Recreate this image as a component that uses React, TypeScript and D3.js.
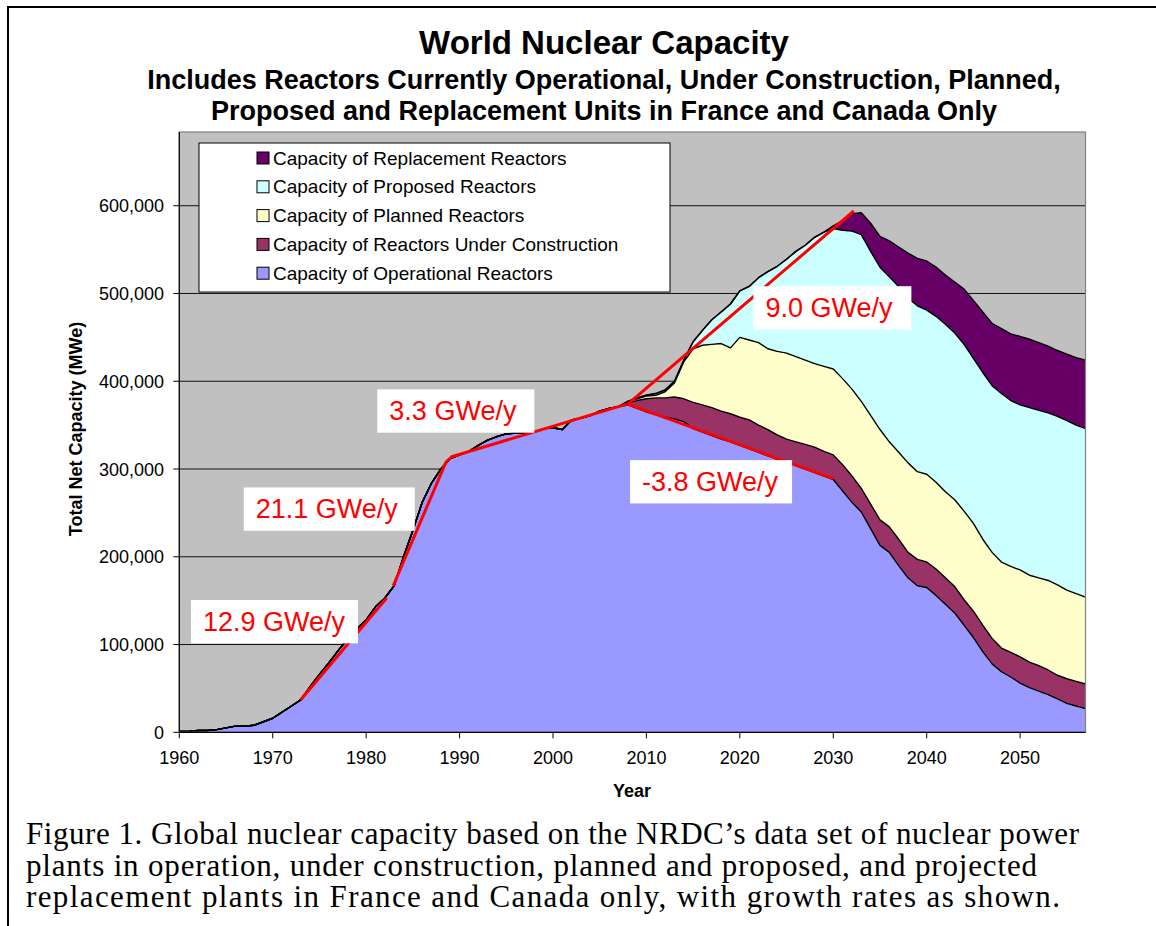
import React from 'react';
import * as d3 from 'd3';

// categories
const years = d3.range(1960, 2058);
const projectionStart = 2008;

// values in thousand MWe
const operational = [
  1, 1, 2, 2, 3, 5, 7, 7, 8, 12,
  16, 23, 30, 37, 52, 66, 79, 93, 106, 118,
  128, 143, 153, 167, 200, 230, 262, 284, 300, 312,
  316, 320, 327, 333, 337, 340, 341, 341, 342, 346,
  347, 345, 356, 358, 361, 366, 369, 371, 373, 369,
  365, 362, 359, 357, 354, 346, 342, 338, 334, 331,
  327, 323, 319, 315, 311, 308, 304, 300, 296, 292,
  288, 275, 262, 251, 232, 213, 205, 190, 176, 167,
  165, 156, 146, 136, 122, 108, 92, 78, 69, 63,
  56, 51, 47, 43, 38, 33, 30, 27,
];

// 2008 .. 2057
const underConstruction = [
  2, 9, 15, 19, 22, 25, 26, 30, 31, 32,
  32, 32, 32, 33, 31, 30, 28, 26, 27, 28,
  29, 28, 28, 30, 30, 27, 28, 29, 29, 30,
  29, 30, 29, 30, 30, 30, 29, 30, 30, 29,
  27, 28, 30, 29, 29, 28, 27, 28, 28, 28,
];
const planned = [
  1, 2, 3, 3, 7, 16, 42, 61, 68, 72,
  77, 75, 91, 91, 94, 92, 95, 98, 97, 96,
  95, 97, 98, 98, 99, 99, 101, 103, 97, 99,
  102, 100, 100, 99, 98, 99, 101, 100, 98, 98,
  98, 98, 99, 99, 100, 102, 103, 101, 100, 99,
];
const proposed = [
  1, 1, 1, 2, 2, 2, 2, 8, 17, 28,
  36, 50, 53, 61, 74, 88, 97, 107, 120, 131,
  144, 153, 160, 169, 180, 190, 187, 185, 188, 189,
  188, 189, 187, 189, 191, 190, 190, 188, 190, 190,
  192, 189, 188, 191, 191, 191, 192, 193, 192, 192,
];
const replacement = [
  0, 0, 0, 0, 0, 0, 0, 0, 0, 0,
  0, 0, 0, 0, 0, 0, 0, 0, 0, 0,
  0, 0, 3, 11, 20, 25, 32, 35, 41, 45,
  51, 54, 56, 56, 56, 58, 63, 66, 69, 71,
  74, 76, 78, 78, 77, 76, 75, 76, 77, 78,
];

const seriesKeys = ['operational', 'underConstruction', 'planned', 'proposed', 'replacement'];
const seriesLabels = [
  'Capacity of Operational Reactors',
  'Capacity of Reactors Under Construction',
  'Capacity of Planned Reactors',
  'Capacity of Proposed Reactors',
  'Capacity of Replacement Reactors',
];
const seriesColors = ['#9999FF', '#993366', '#FFFFCC', '#CCFFFF', '#660066'];

const yTicks = [0, 100000, 200000, 300000, 400000, 500000, 600000];
const xTicks = [1960, 1970, 1980, 1990, 2000, 2010, 2020, 2030, 2040, 2050];

// growth-rate trend lines: [year, MWe]
const trendLines = [
  [[1973, 37000], [1982.2, 153000]],
  [[1982.9, 167000], [1988.55, 308000], [1989.15, 314000], [2007.9, 374000]],
  [[2008, 374000], [2032.2, 594000]],
  [[2008, 374000], [2030, 289000]],
];
// label boxes, top-left corner in data units
const trendLabels = [
  { text: '12.9 GWe/y', year: 1961.25, value: 150700, w: 167 },
  { text: '21.1 GWe/y', year: 1966.9, value: 279000, w: 171 },
  { text: '3.3 GWe/y', year: 1981.2, value: 390700, w: 157 },
  { text: '9.0 GWe/y', year: 2021.45, value: 508300, w: 158 },
  { text: '-3.8 GWe/y', year: 2008.25, value: 310100, w: 162 },
];

const captionLines = [
  'Figure 1. Global nuclear capacity based on the NRDC\u2019s data set of nuclear power',
  'plants in operation, under construction, planned and proposed, and projected',
  'replacement plants in France and Canada only, with growth rates as shown.',
];
const captionWidths = [1053, 1011, 1034];

const sans = 'Liberation Sans, Arial, sans-serif';
const serif = 'Liberation Serif, Times New Roman, serif';

export default function App() {
  const W = 1156;
  const H = 926;
  const plot = { left: 179.3, right: 1085.5, top: 132, bottom: 732.3 };

  const x = d3.scaleLinear().domain([1960, 2057]).range([plot.left, plot.right]);
  const y = d3.scaleLinear().domain([0, 684000]).range([plot.bottom, plot.top]);

  const pick = (arr: number[], yr: number) => (yr < projectionStart ? 0 : arr[yr - projectionStart]);
  const table = years.map((yr, i) => ({
    year: yr,
    operational: operational[i] * 1000,
    underConstruction: pick(underConstruction, yr) * 1000,
    planned: pick(planned, yr) * 1000,
    proposed: pick(proposed, yr) * 1000,
    replacement: pick(replacement, yr) * 1000,
  }));

  const stacked = d3.stack<any>().keys(seriesKeys)(table);
  const area = d3
    .area<any>()
    .x((d) => x(d.data.year))
    .y0((d) => y(d[0]))
    .y1((d) => y(d[1]));
  const topLine = d3
    .line<any>()
    .x((d) => x(d.data.year))
    .y((d) => y(d[1]));
  const trend = d3
    .line<number[]>()
    .x((d) => x(d[0]))
    .y((d) => y(d[1]));

  const legendRows = [4, 3, 2, 1, 0];

  return (
    <svg width={W} height={H} style={{ position: 'absolute', left: 0, top: 0, background: '#fff' }}>
      {/* page frame */}
      <line x1={8} y1={7} x2={W} y2={7} stroke="#000" strokeWidth={2} />
      <line x1={8} y1={6} x2={8} y2={H} stroke="#000" strokeWidth={2} />

      {/* titles */}
      <g fontFamily={sans} fontWeight="bold" textAnchor="middle" fill="#000">
        <text x={604} y={54} fontSize={33}>World Nuclear Capacity</text>
        <text x={604} y={89} fontSize={27}>Includes Reactors Currently Operational, Under Construction, Planned,</text>
        <text x={604} y={120} fontSize={27}>Proposed and Replacement Units in France and Canada Only</text>
      </g>

      {/* plot background */}
      <rect x={plot.left} y={plot.top} width={plot.right - plot.left} height={plot.bottom - plot.top} fill="#C0C0C0" />
      {yTicks.slice(1).map((t) => (
        <line key={t} x1={plot.left} x2={plot.right} y1={y(t)} y2={y(t)} stroke="#111" strokeWidth={1} />
      ))}

      {/* stacked areas */}
      {stacked.map((s, i) => (
        <path key={s.key} d={area(s) || ''} fill={seriesColors[i]} />
      ))}
      {stacked.map((s) => (
        <path key={s.key + '-l'} d={topLine(s) || ''} fill="none" stroke="#000" strokeWidth={1.4} strokeLinejoin="round" />
      ))}

      <rect x={plot.left} y={plot.top} width={plot.right - plot.left} height={plot.bottom - plot.top} fill="none" stroke="#808080" strokeWidth={1.2} />

      {/* axes */}
      <line x1={plot.left} x2={plot.left} y1={plot.top} y2={plot.bottom} stroke="#000" strokeWidth={1.2} />
      <line x1={plot.left} x2={plot.right} y1={plot.bottom} y2={plot.bottom} stroke="#000" strokeWidth={1.2} />
      <g fontFamily={sans} fontSize={18} fill="#000">
        {yTicks.map((t) => (
          <g key={t}>
            <line x1={plot.left - 6} x2={plot.left} y1={y(t)} y2={y(t)} stroke="#000" />
            <text x={164} y={y(t) + 6.5} textAnchor="end">{d3.format(',')(t)}</text>
          </g>
        ))}
        {xTicks.map((t) => (
          <g key={t}>
            <line x1={x(t)} x2={x(t)} y1={plot.bottom} y2={plot.bottom + 6} stroke="#000" />
            <text x={x(t)} y={764} textAnchor="middle">{t}</text>
          </g>
        ))}
      </g>
      <text x={632} y={797} fontFamily={sans} fontSize={18} fontWeight="bold" textAnchor="middle">Year</text>
      <text
        transform={`translate(82,429) rotate(-90)`}
        fontFamily={sans}
        fontSize={18}
        fontWeight="bold"
        textAnchor="middle"
      >
        Total Net Capacity (MWe)
      </text>

      {/* trend lines */}
      {trendLines.map((l, i) => (
        <path key={i} d={trend(l) || ''} fill="none" stroke="#FF0000" strokeWidth={3} strokeLinejoin="round" />
      ))}
      {trendLabels.map((lab) => (
        <g key={lab.text}>
          <rect x={x(lab.year)} y={y(lab.value)} width={lab.w} height={43.3} fill="#fff" />
          <text x={x(lab.year) + 12} y={y(lab.value) + 31} fontFamily={sans} fontSize={27} fill="#FF0000">
            {lab.text}
          </text>
        </g>
      ))}

      {/* legend */}
      <rect x={199} y={143} width={471} height={149} fill="#fff" stroke="#000" strokeWidth={1} />
      {legendRows.map((si, row) => {
        const cy = 158 + row * 28.8;
        return (
          <g key={si}>
            <rect x={257} y={cy - 6} width={12} height={12} fill={seriesColors[si]} stroke="#000" strokeWidth={1} />
            <text x={273} y={cy + 6.5} fontFamily={sans} fontSize={19} fill="#000">{seriesLabels[si]}</text>
          </g>
        );
      })}

      {/* caption */}
      <g fontFamily={serif} fontSize={31} fill="#000">
        {captionLines.map((c, i) => (
          <text key={i} x={26} y={844 + i * 31.7} textLength={captionWidths[i]} lengthAdjust="spacing">
            {c}
          </text>
        ))}
      </g>
    </svg>
  );
}
